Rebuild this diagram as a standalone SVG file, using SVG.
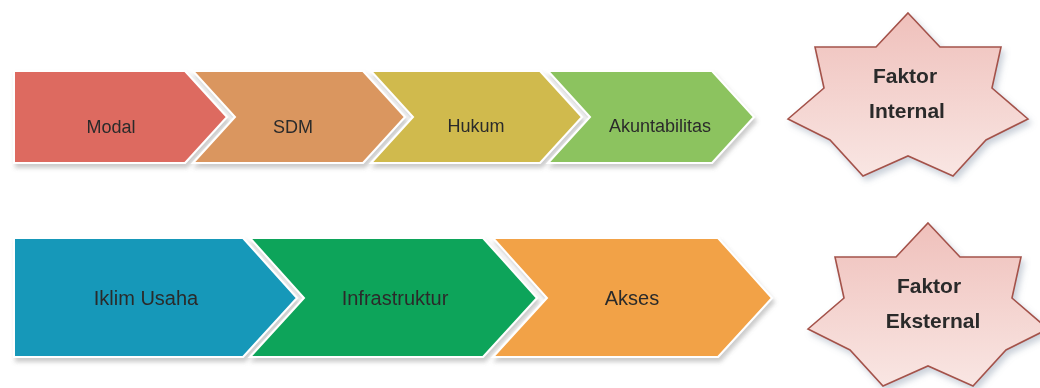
<svg xmlns="http://www.w3.org/2000/svg" width="1040" height="388" viewBox="0 0 1040 388">
  <defs>
    <filter id="shade" x="-10%" y="-20%" width="130%" height="150%">
      <feDropShadow dx="2" dy="4" stdDeviation="2" flood-color="#6a6a6a" flood-opacity="0.35"/>
    </filter>
    <filter id="starShade" x="-20%" y="-20%" width="140%" height="140%">
      <feDropShadow dx="3" dy="4" stdDeviation="3" flood-color="#7a8aa0" flood-opacity="0.4"/>
    </filter>
    <linearGradient id="starFill" x1="0" y1="0" x2="0" y2="1">
      <stop offset="0" stop-color="#efc0bb"/>
      <stop offset="1" stop-color="#f9e6e3"/>
    </linearGradient>
    <!-- seven-point star, shared by both factor badges -->
    <polygon id="star7" points="908,13 940,47 1001,47 992,88 1028,119 986,140 953,176 908,156 863,176 830,140 788,119 824,88 815,47 876,47"/>
  </defs>
  <style>
    .chev { stroke: #ffffff; stroke-width: 2; stroke-linejoin: miter; }
    .lbl { font-family: "Liberation Sans", Arial, sans-serif; fill: #2b2b2b; text-anchor: middle; }
    .top { font-size: 18px; }
    .bot { font-size: 20px; }
    .star { fill: url(#starFill); stroke: #a4524a; stroke-width: 1.6; stroke-linejoin: miter; }
    .slbl { font-family: "Liberation Sans", Arial, sans-serif; font-weight: bold; font-size: 21px; fill: #2a2a2a; text-anchor: middle; }
  </style>

  <rect width="1040" height="388" fill="#ffffff"/>

  <!-- internal factors row -->
  <g id="row-internal" filter="url(#shade)">
    <g id="modal">
      <polygon class="chev" fill="#dd6a60" points="14,71 185,71 227,117 185,163 14,163"/>
      <text class="lbl top" x="111" y="133">Modal</text>
    </g>
    <g id="sdm">
      <polygon class="chev" fill="#da965f" points="193,71 363,71 405,117 363,163 193,163 235,117"/>
      <text class="lbl top" x="293" y="133">SDM</text>
    </g>
    <g id="hukum">
      <polygon class="chev" fill="#d0ba4e" points="371,71 540,71 582,117 540,163 371,163 413,117"/>
      <text class="lbl top" x="476" y="132">Hukum</text>
    </g>
    <g id="akuntabilitas">
      <polygon class="chev" fill="#8cc35f" points="548,71 712,71 754,117 712,163 548,163 590,117"/>
      <text class="lbl top" x="660" y="132">Akuntabilitas</text>
    </g>
  </g>

  <!-- external factors row -->
  <g id="row-external" filter="url(#shade)">
    <g id="iklim-usaha">
      <polygon class="chev" fill="#1698b9" points="14,238 243,238 297,298 243,357 14,357"/>
      <text class="lbl bot" x="146" y="305">Iklim Usaha</text>
    </g>
    <g id="infrastruktur">
      <polygon class="chev" fill="#10a45a" points="250,238 483,238 537,298 483,357 250,357 304,298"/>
      <text class="lbl bot" x="395" y="305">Infrastruktur</text>
    </g>
    <g id="akses">
      <polygon class="chev" fill="#f2a246" points="493,238 718,238 772,298 718,357 493,357 547,298"/>
      <text class="lbl bot" x="632" y="305">Akses</text>
    </g>
  </g>

  <!-- factor badges -->
  <g id="faktor-internal" filter="url(#starShade)">
    <use href="#star7" class="star"/>
    <text class="slbl" x="905" y="83">Faktor</text>
    <text class="slbl" x="907" y="118">Internal</text>
  </g>
  <g id="faktor-eksternal" filter="url(#starShade)">
    <use href="#star7" class="star" transform="translate(20,210)"/>
    <text class="slbl" x="929" y="293">Faktor</text>
    <text class="slbl" x="933" y="328">Eksternal</text>
  </g>

  <!-- no connectors between nodes -->
  <g id="connectors"/>
</svg>
